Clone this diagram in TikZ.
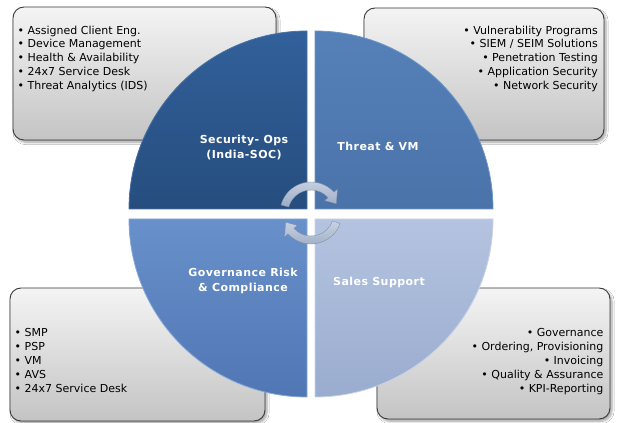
\documentclass[tikz,border=0pt]{standalone}
\usepackage{fontspec}
\setmainfont{DejaVu Sans}
\newfontfamily\qfont[LetterSpace=4]{DejaVu Sans}
\usetikzlibrary{shadows.blur}
\definecolor{boxtop}{HTML}{F4F4F4}
\definecolor{boxbot}{HTML}{C4C4C4}
\definecolor{boxline}{HTML}{3A3A3A}
\definecolor{qatop}{HTML}{32609A}
\definecolor{qabot}{HTML}{264D7E}
\definecolor{qaedge}{HTML}{4A74A8}
\definecolor{qbtop}{HTML}{5580B8}
\definecolor{qbbot}{HTML}{4A73AA}
\definecolor{qbedge}{HTML}{7096C8}
\definecolor{qctop}{HTML}{6890CA}
\definecolor{qcbot}{HTML}{5077B4}
\definecolor{qcedge}{HTML}{86A8D8}
\definecolor{qdtop}{HTML}{B4C3E0}
\definecolor{qdbot}{HTML}{9AACCF}
\definecolor{qdedge}{HTML}{C8D4EA}
\definecolor{arrlight}{HTML}{C9D2E2}
\definecolor{arrdark}{HTML}{9CABC4}
\begin{document}
\begin{tikzpicture}[x=1pt,y=1pt,
  listbox/.style={draw=boxline, line width=0.9pt, rounded corners=11pt,
    top color=boxtop, bottom color=boxbot, inner sep=0pt,
    blur shadow={shadow xshift=2pt, shadow yshift=-2.5pt, shadow blur steps=6, shadow opacity=35}},
  listtext/.style={inner sep=0pt, text=black, font=\fontsize{11}{13.9}\selectfont},
  qlabel/.style={inner sep=0pt, text=white, align=center,
    font=\qfont\bfseries\fontsize{11}{15}\selectfont},
  quad/.style={line width=0.8pt},
  cyclearrow/.style={top color=arrlight, bottom color=arrdark, draw=arrdark!80!black, line width=0.3pt}
]
\useasboundingbox (0,0) rectangle (624,423);
\fill[white] (0,0) rectangle (624,423);

% list boxes
\node[listbox, minimum width=263, minimum height=133] (tlbox) at (144.5,349.5) {};
\node[listbox, minimum width=240, minimum height=132] (trbox) at (484,349) {};
\node[listbox, minimum width=255, minimum height=133] (blbox) at (137.5,68.5) {};
\node[listbox, minimum width=233, minimum height=131] (brbox) at (493.5,69.5) {};

% quadrants
\shade[quad, top color=qatop, bottom color=qabot, draw=qaedge]
  (307,214) -- (129,214) arc (180:90:178) -- cycle;
\shade[quad, top color=qbtop, bottom color=qbbot, draw=qbedge]
  (315,214) -- (315,392) arc (90:0:178) -- cycle;
\shade[quad, top color=qctop, bottom color=qcbot, draw=qcedge]
  (307,204) -- (307,26) arc (270:180:178) -- cycle;
\shade[quad, top color=qdtop, bottom color=qdbot, draw=qdedge]
  (315,204) -- (493,204) arc (0:-90:178) -- cycle;

% cycle arrows
\begin{scope}[shift={(311,210)}]
  \shade[cyclearrow] (165:31) arc (165:42:31) -- (42:35.5) -- (20:27) -- (42:18.5)
    -- (42:23) arc (42:165:23) -- cycle;
  \shade[cyclearrow] (-20:31) arc (-20:-138:31) -- (-138:35.5) -- (-160:27) -- (-138:18.5)
    -- (-138:23) arc (-138:-20:23) -- cycle;
\end{scope}

% list texts
\node[listtext, anchor=north west, align=left] (tltext) at (17.5,397.5)
  {• Assigned Client Eng.\\• Device Management\\• Health \& Availability\\• 24x7 Service Desk\\• Threat Analytics (IDS)};
\node[listtext, anchor=north east, align=right] (trtext) at (598,397.5)
  {• Vulnerability Programs\\• SIEM / SEIM Solutions\\• Penetration Testing\\• Application Security\\• Network Security};
\node[listtext, anchor=north west, align=left] (bltext) at (14.5,94.5)
  {• SMP\\• PSP\\• VM\\• AVS\\• 24x7 Service Desk};
\node[listtext, anchor=north east, align=right] (brtext) at (603.5,94.5)
  {• Governance\\• Ordering, Provisioning\\• Invoicing\\• Quality \& Assurance\\• KPI-Reporting};

% quadrant labels
\node[qlabel] (secops) at (244,275.5) {Security- Ops\\(India-SOC)};
\node[qlabel] (threat) at (378,277) {Threat \& VM};
\node[qlabel] (grc) at (243,142) {Governance Risk\\\& Compliance};
\node[qlabel] (sales) at (379,141) {Sales Support};
\end{tikzpicture}
\end{document}
